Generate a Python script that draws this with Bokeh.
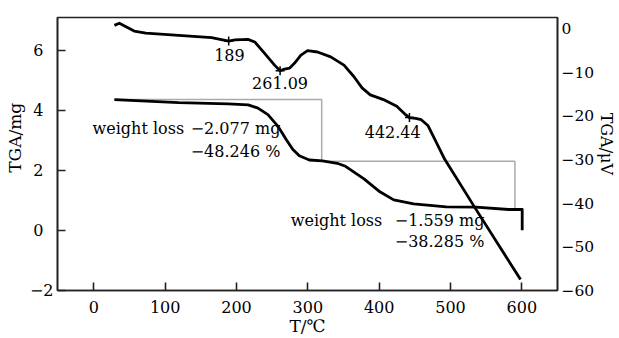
from bokeh.plotting import figure
from bokeh.models import Range1d, LinearAxis, FixedTicker, Label
from bokeh.embed import file_html
from bokeh.resources import INLINE

FONT = "DejaVu Serif"

# ---------------- data ----------------
x_ticks = [0, 100, 200, 300, 400, 500, 600]
tga_ticks = [-2, 0, 2, 4, 6]
dta_ticks = [0, -10, -20, -30, -40, -50, -60]

# TGA curve (mg) vs temperature (deg C)
tga_t = [28.8, 119, 188.5, 216.3, 230.1, 244, 257.9, 269.4, 278.7, 288, 302,
         320.4, 341.2, 352.8, 378.7, 401, 420.4, 448.2, 494, 535.7, 581.5,
         600.5, 600.5]
tga_m = [4.36, 4.26, 4.22, 4.19, 4.08, 3.86, 3.48, 3.04, 2.71, 2.49, 2.35,
         2.32, 2.24, 2.14, 1.72, 1.29, 1.02, 0.89, 0.79, 0.78, 0.70,
         0.70, 0.01]

# DTA curve (uV) vs temperature (deg C)
dta_t = [28.8, 35.7, 56.5, 72.8, 119, 165, 189, 197.8, 216, 225.6, 239.4,
         253.3, 261.09, 267.2, 274.2, 281.1, 290.3, 299.6, 313.5, 332, 350.6,
         364.4, 376, 387.5, 406, 424.6, 436, 442.44, 451, 459, 468.6, 480.1,
         491.7, 533.3, 598.2]
dta_v = [0.7, 1.2, -0.6, -1.1, -1.6, -2.1, -2.9, -2.6, -2.5, -3.1, -5.7,
         -8.4, -9.7, -9.3, -9.1, -8.0, -6.1, -5.1, -5.4, -6.5, -8.4,
         -11.0, -13.6, -15.2, -16.3, -17.8, -19.6, -20.4, -20.6, -20.9, -22.3, -26.1,
         -29.9, -40.8, -57.5]

# weight-loss step guide (mg)
step_t = [28.8, 319.4, 319.4, 590.3, 590.3]
step_m = [4.37, 4.37, 2.31, 2.31, 0.70]

# DTA peaks
peak_t = [189, 261.09, 442.44]
peak_v = [-2.9, -9.7, -20.4]
peak_labels = ["189", "261.09", "442.44"]
peak_label_x = [190, 261, 419]
peak_label_y = [5.84, 4.92, 3.30]

# weight-loss annotations
loss_word = ["weight loss", "weight loss"]
loss_mg = ["\u22122.077 mg", "\u22121.559 mg"]
loss_pct = ["\u221248.246 %", "\u221238.285 %"]
loss_word_x = [-1.8, 276]
loss_val_x = [135.7, 421.8]
loss_y1 = [3.40, 0.33]
loss_y2 = [2.64, -0.36]

# ---------------- figure ----------------
p = figure(width=619, height=338, title=None,
           x_range=Range1d(-51, 650), y_range=Range1d(-2, 7.1),
           output_backend="svg", toolbar_location=None,
           min_border_left=57, min_border_right=57,
           min_border_top=17, min_border_bottom=48)
p.extra_y_ranges = {"dta": Range1d(-60, 2.5)}

p.grid.visible = False
p.outline_line_color = "#222222"
p.outline_line_width = 1.6
p.background_fill_color = "white"
p.border_fill_color = "white"

def style_axis(ax, tick_size="16px"):
    ax.axis_line_color = "#222222"
    ax.axis_line_width = 1.6
    ax.major_tick_line_color = "#222222"
    ax.major_tick_line_width = 1.6
    ax.minor_tick_line_color = None
    ax.major_label_text_font = FONT
    ax.major_label_text_font_size = tick_size
    ax.major_label_text_color = "black"
    ax.axis_label_text_font = FONT
    ax.axis_label_text_font_size = "17px"
    ax.axis_label_text_font_style = "normal"
    ax.axis_label_text_color = "black"

xa = p.xaxis[0]
style_axis(xa)
xa.ticker = FixedTicker(ticks=x_ticks)
xa.major_tick_in = 8
xa.major_tick_out = 0
xa.major_label_standoff = 10
xa.axis_label = "T/\u2103"
xa.axis_label_standoff = 0

ya = p.yaxis[0]
style_axis(ya)
ya.ticker = FixedTicker(ticks=tga_ticks)
ya.major_tick_in = 8
ya.major_tick_out = 0
ya.major_label_standoff = 4
ya.major_label_overrides = {t: (("\u2212" + str(-t)) if t < 0 else (str(t) + "\u2007"))
                            for t in tga_ticks}
ya.axis_label = "\u2007\u2007\u2007TGA/mg"
ya.axis_label_standoff = 2

ra = LinearAxis(y_range_name="dta", ticker=FixedTicker(ticks=dta_ticks))
style_axis(ra, tick_size="15.5px")
ra.major_tick_in = 0
ra.major_tick_out = 0
ra.major_label_standoff = 4
ra.major_label_overrides = {t: (("\u2212" + str(-t)) if t < 0 else str(t)) for t in dta_ticks}
ra.axis_label = "TGA/\u03bcV\u2007\u2007"
ra.axis_label_standoff = 0
ra.axis_label_text_font_size = "16px"
p.add_layout(ra, "right")

# ---------------- glyphs ----------------
p.line(step_t, step_m, line_color="#aaaaaa", line_width=1.5)
p.line(tga_t, tga_m, line_color="black", line_width=2.8, line_join="round")
p.line(dta_t, dta_v, y_range_name="dta", line_color="black", line_width=2.8,
       line_join="round")
p.scatter(peak_t, peak_v, y_range_name="dta", marker="cross", size=9,
          line_color="black", line_width=1.5)

def lab(x, y, text, align="left"):
    p.add_layout(Label(x=x, y=y, text=text, text_font=FONT, text_font_size="16px",
                       text_align=align, text_baseline="middle", text_color="black"))

for x, y, t in zip(peak_label_x, peak_label_y, peak_labels):
    lab(x, y, t, align="center")

for i in range(2):
    lab(loss_word_x[i], loss_y1[i], loss_word[i])
    lab(loss_val_x[i], loss_y1[i], loss_mg[i])
    lab(loss_val_x[i], loss_y2[i], loss_pct[i])

open("out.html", "w").write(file_html(p, INLINE))
